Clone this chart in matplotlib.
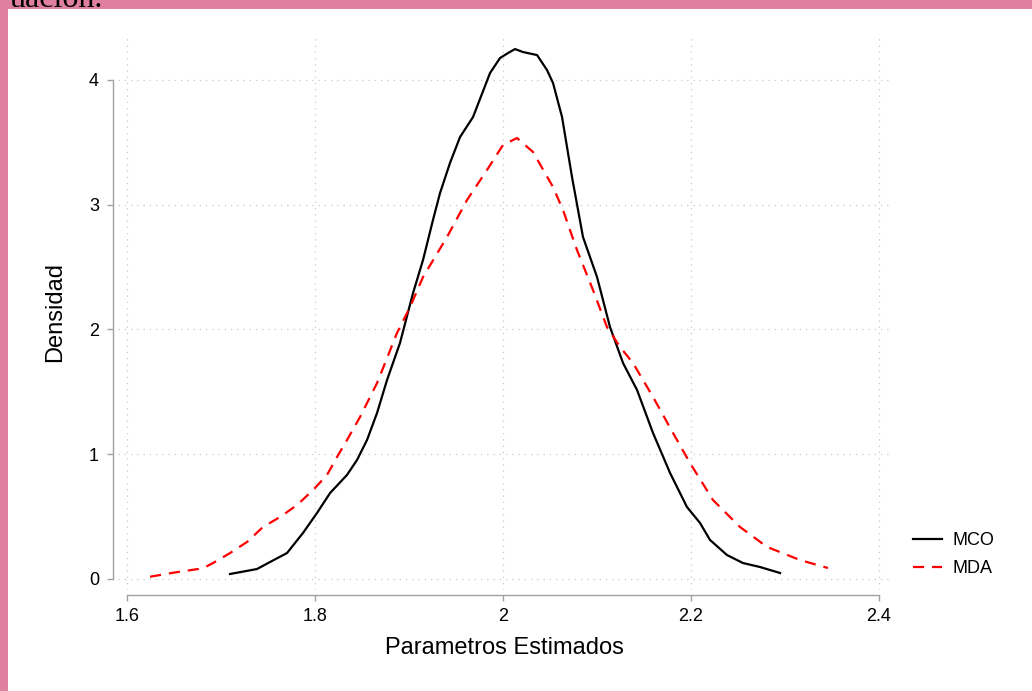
import matplotlib
matplotlib.use("Agg")
import matplotlib.pyplot as plt
from matplotlib.patches import Rectangle

# ---- data ----
mco_x = [1.7096, 1.7383, 1.7521, 1.7702, 1.7872, 1.8021, 1.8160, 1.8340, 1.8447, 1.8553,
         1.8660, 1.8766, 1.8904, 1.9043, 1.9149, 1.9255, 1.9330, 1.9436, 1.9543, 1.9681,
         1.9862, 1.9968, 2.0053, 2.0128, 2.0213, 2.0362, 2.0468, 2.0532, 2.0628, 2.0734,
         2.0851, 2.1000, 2.1138, 2.1277, 2.1426, 2.1596, 2.1777, 2.1957, 2.2096, 2.2202,
         2.2383, 2.2553, 2.2734, 2.2947]
mco_y = [0.040, 0.080, 0.136, 0.208, 0.369, 0.529, 0.689, 0.834, 0.954, 1.114,
         1.331, 1.595, 1.892, 2.293, 2.557, 2.878, 3.094, 3.335, 3.543, 3.703,
         4.056, 4.176, 4.216, 4.248, 4.224, 4.200, 4.080, 3.976, 3.703, 3.222,
         2.741, 2.421, 2.020, 1.731, 1.515, 1.170, 0.850, 0.577, 0.449, 0.313,
         0.192, 0.128, 0.096, 0.048]

mda_x = [1.6245, 1.6489, 1.6809, 1.6915, 1.7096, 1.7277, 1.7447, 1.7628, 1.7809, 1.7979,
         1.8128, 1.8234, 1.8340, 1.8479, 1.8660, 1.8745, 1.8872, 1.9011, 1.9149, 1.9404,
         1.9617, 1.9830, 2.0000, 2.0149, 2.0319, 2.0532, 2.0638, 2.0787, 2.0957, 2.1106,
         2.1245, 2.1383, 2.1596, 2.1809, 2.1989, 2.2234, 2.2521, 2.2809, 2.3160, 2.3457]
mda_y = [0.018, 0.050, 0.086, 0.128, 0.208, 0.297, 0.417, 0.497, 0.593, 0.713,
         0.834, 0.978, 1.114, 1.299, 1.571, 1.731, 1.972, 2.180, 2.421, 2.741,
         3.038, 3.279, 3.479, 3.535, 3.423, 3.142, 2.958, 2.637, 2.317, 2.020,
         1.860, 1.731, 1.459, 1.170, 0.930, 0.633, 0.417, 0.257, 0.152, 0.088]

x_ticks = [1.6, 1.8, 2.0, 2.2, 2.4]
x_tick_labels = ["1.6", "1.8", "2", "2.2", "2.4"]
y_ticks = [0, 1, 2, 3, 4]
y_tick_labels = ["0", "1", "2", "3", "4"]
series_labels = ["MCO", "MDA"]
x_title = "Parametros Estimados"
y_title = "Densidad"
top_fragment = "uación."

W, H = 1032, 691
plt.rcParams['font.family'] = ['Liberation Sans', 'DejaVu Sans']

fig = plt.figure(figsize=(W / 100, H / 100), dpi=100)
fig.patch.set_facecolor('#E080A0')
fig.patches.append(Rectangle((8 / W, 0), 1, 1 - 9 / H, transform=fig.transFigure,
                             facecolor='white', edgecolor='none', zorder=-5))
fig.text(10 / W, 1 - 7 / H, top_fragment, va='baseline', ha='left',
         family=['Liberation Serif', 'DejaVu Serif'], fontsize=23, color='black')

left, right, top, bottom = 118, 890, 35, 590
ax = fig.add_axes([left / W, 1 - bottom / H, (right - left) / W, (bottom - top) / H])
ax.patch.set_visible(False)

ax.plot(mco_x, mco_y, color='black', lw=1.6, label=series_labels[0], solid_joinstyle='round')
ax.plot(mda_x, mda_y, color='#FF0000', lw=1.6, ls=(0, (5.0, 3.6)), label=series_labels[1])

ax.set_xlim(1.5904, 2.4117)
ax.set_ylim(-0.0882, 4.3607)

ax.set_xticks(x_ticks)
ax.set_xticklabels(x_tick_labels)
ax.set_yticks(y_ticks)
ax.set_yticklabels(y_tick_labels)

ax.grid(True, color='#C8C8C8', ls=(0, (1, 4)), lw=0.9)
for s in ['top', 'right']:
    ax.spines[s].set_visible(False)
for s in ['left', 'bottom']:
    ax.spines[s].set_position(('outward', 3.6))
    ax.spines[s].set_color('#A0A0A0')
    ax.spines[s].set_linewidth(1.0)
ax.spines['left'].set_bounds(0, 4)
ax.spines['bottom'].set_bounds(1.6, 2.4)
ax.tick_params(axis='both', colors='#A0A0A0', labelcolor='black', labelsize=13,
               length=4.5, width=1.0)
ax.tick_params(axis='y', pad=5.5)
ax.tick_params(axis='x', pad=5)

ax.set_xlabel(x_title, fontsize=17)
ax.set_ylabel(y_title, fontsize=17)
ax.xaxis.set_label_coords(0.5, (bottom - 637) / (bottom - top))
ax.yaxis.set_label_coords((66 - left) / (right - left), 0.5)

fig.legend(loc='center left', bbox_to_anchor=(913 / W, 1 - 554.5 / H),
           frameon=False, fontsize=13, handlelength=1.6, handletextpad=0.6,
           labelspacing=0.6, borderpad=0, borderaxespad=0)

fig.savefig('out.png', dpi=100, facecolor=fig.get_facecolor())
